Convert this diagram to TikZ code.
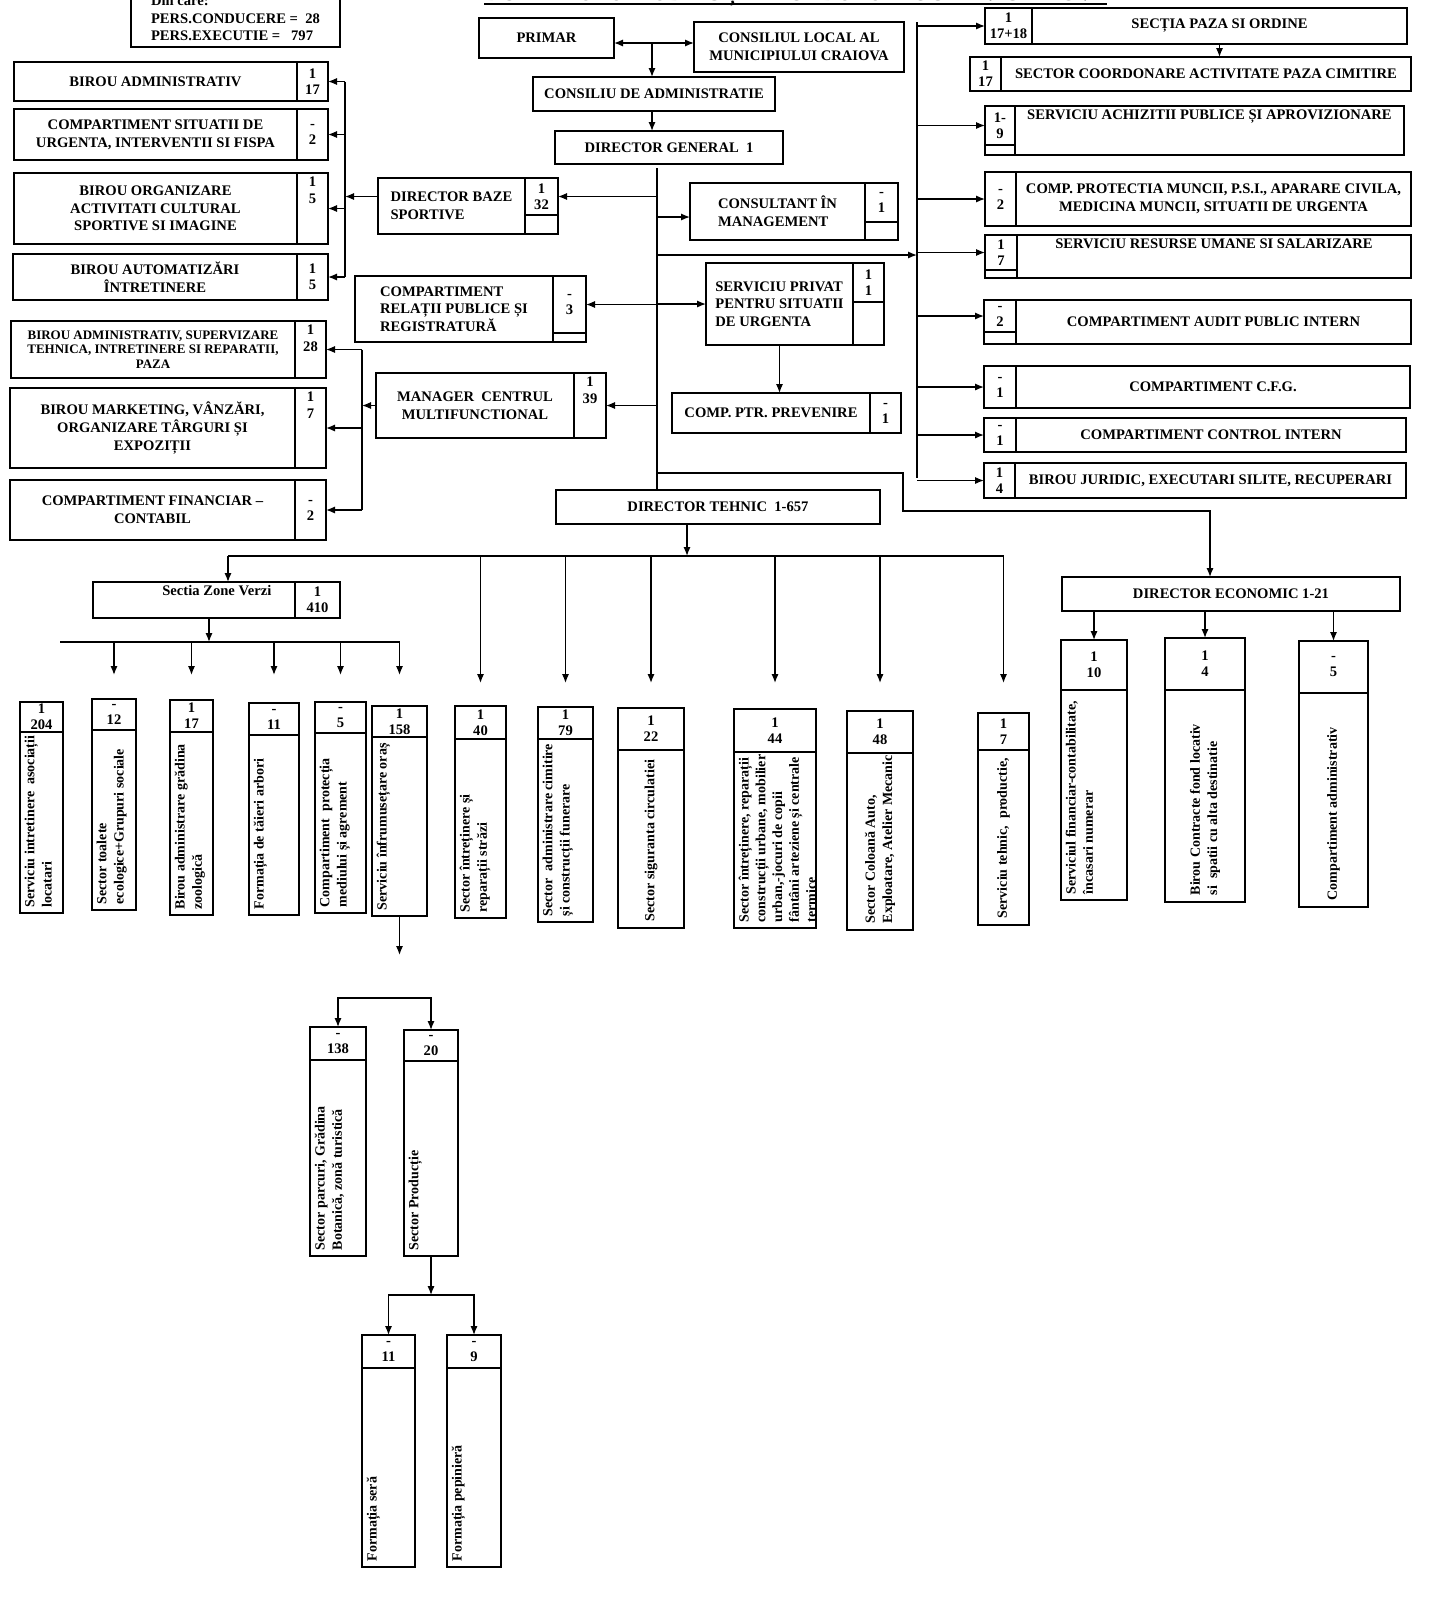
\documentclass[tikz,border=0pt]{standalone}
\usepackage{fontspec}
\setmainfont{Liberation Serif}
\usetikzlibrary{positioning}
\usetikzlibrary{arrows.meta}

\begin{document}
\begin{tikzpicture}[x=0.5pt,y=-0.5pt,line width=0.7pt]
\tikzset{>={Latex[length=4.5pt,width=3.6pt]}}
\tikzset{
  box/.style={draw,anchor=north west,outer sep=0pt,inner sep=1pt,align=center,font=\bfseries\fontsize{7.3}{8.8}\selectfont},
  cell/.style={draw,outer sep=0pt,inner sep=0.5pt,align=center,font=\bfseries\fontsize{7.3}{8}\selectfont},
  ntop/.style={anchor=north,align=center,inner sep=1.5pt,font=\bfseries\fontsize{7.3}{8.8}\selectfont},
  vtxt/.style={rotate=90,anchor=north west,inner sep=1pt,align=left,font=\bfseries\fontsize{7}{8.6}\selectfont},
  vtxtc/.style={rotate=90,anchor=west,inner sep=1pt,align=left,font=\bfseries\fontsize{7}{8.6}\selectfont}
}
\clip (0,0) rectangle (1449,1607);

% title and totals (cut by the top edge)
\node[anchor=base east,inner sep=0pt,font=\bfseries\fontsize{11}{13}\selectfont] (title) at (1107,0) {DOMENIULUI PUBLIC ȘI A FONDULUI LOCATIV CRAIOVA};
\draw[line width=1pt] ([yshift=-1.8pt]title.base west) -- ([yshift=-1.8pt]title.base east);
\node[box,anchor=south west,align=left,inner sep=3pt,minimum width=104.5pt] (pers) at (131,47) {Din care:\\PERS.CONDUCERE =\ \ 28\\PERS.EXECUTIE =\ \ \ 797};

% left column, under director baze sportive
\node[box,minimum width=141.5pt,minimum height=19.5pt] (b1) at (14,62) {BIROU ADMINISTRATIV};
\node[cell,minimum width=15.5pt,minimum height=19.5pt,right=0pt of b1] (b1n) {1\\17};
\node[box,minimum width=141.5pt,minimum height=25.5pt] (b2) at (14,109) {COMPARTIMENT SITUATII DE\\URGENTA, INTERVENTII SI FISPA};
\node[cell,minimum width=15.5pt,minimum height=25.5pt,right=0pt of b2] (b2n) {-\\2};
\node[box,minimum width=141.5pt,minimum height=35.5pt] (b3) at (14,173) {BIROU ORGANIZARE\\ACTIVITATI CULTURAL\\SPORTIVE SI IMAGINE};
\node[cell,minimum width=15.5pt,minimum height=35.5pt,right=0pt of b3,label={[ntop]north:1\\5}] (b3n) {};
\node[box,minimum width=142pt,minimum height=23pt] (b4) at (13,254) {BIROU AUTOMATIZĂRI\\ÎNTRETINERE};
\node[cell,minimum width=15.5pt,minimum height=23pt,right=0pt of b4] (b4n) {1\\5};

% left column, under manager centrul multifunctional
\node[box,minimum width=142pt,minimum height=28.5pt,font=\bfseries\fontsize{6.5}{7.2}\selectfont] (b5) at (11,321) {BIROU ADMINISTRATIV, SUPERVIZARE\\TEHNICA, INTRETINERE SI REPARATII,\\PAZA};
\node[cell,minimum width=15.5pt,minimum height=28.5pt,right=0pt of b5,label={[ntop]north:1\\28}] (b5n) {};
\node[box,minimum width=142.5pt,minimum height=40pt] (b6) at (10,388) {BIROU MARKETING, VÂNZĂRI,\\ORGANIZARE TÂRGURI ȘI\\EXPOZIȚII};
\node[cell,minimum width=15.5pt,minimum height=40pt,right=0pt of b6,label={[ntop]north:1\\7}] (b6n) {};
\node[box,minimum width=142.5pt,minimum height=30pt] (b7) at (10,480) {COMPARTIMENT FINANCIAR --\\CONTABIL};
\node[cell,minimum width=15.5pt,minimum height=30pt,right=0pt of b7] (b7n) {-\\2};

% management
\node[box,minimum width=67.5pt,minimum height=20pt] (primar) at (479,18) {PRIMAR};
\node[box,minimum width=105pt,minimum height=25pt] (cl) at (694,22) {CONSILIUL LOCAL AL\\MUNICIPIULUI CRAIOVA};
\node[box,minimum width=121pt,minimum height=17pt] (ca) at (533,77) {CONSILIU DE ADMINISTRATIE};
\node[box,minimum width=114pt,minimum height=16.5pt] (dg) at (555,131) {DIRECTOR GENERAL\ \ 1};

% boxes beside the trunk
\node[cell,anchor=north east,minimum width=16.5pt,minimum height=18.5pt] (dbsn) at (558,178) {1\\32};
\node[box,anchor=north east,align=left,minimum width=73.5pt,minimum height=28pt] (dbs) at (dbsn.north west) {DIRECTOR BAZE\\SPORTIVE};
\draw (dbs.south east) -| (dbsn.south east);
\node[cell,anchor=north east,minimum width=16.5pt,minimum height=19.5pt] (consn) at (898,183) {-\\1};
\node[box,anchor=north east,align=left,minimum width=87.5pt,minimum height=28.5pt] (cons) at (consn.north west) {CONSULTANT ÎN\\MANAGEMENT};
\draw (cons.south east) -| (consn.south east);
\node[cell,anchor=north east,minimum width=16.5pt,minimum height=28.5pt] (crpsrn) at (586,276) {-\\3};
\node[box,anchor=north east,align=left,minimum width=99pt,minimum height=33pt] (crpsr) at (crpsrn.north west) {COMPARTIMENT\\RELAȚII PUBLICE ȘI\\REGISTRATURĂ};
\draw (crpsr.south east) -| (crpsrn.south east);
\node[cell,anchor=north east,minimum width=15.5pt,minimum height=19.5pt] (spsun) at (884,263) {1\\1};
\node[box,anchor=north east,align=left,minimum width=73.5pt,minimum height=41pt] (spsu) at (spsun.north west) {SERVICIU PRIVAT\\PENTRU SITUATII\\DE URGENTA};
\draw (spsu.south east) -| (spsun.south east);
\node[box,minimum width=99pt,minimum height=32.5pt] (mcm) at (376,373) {MANAGER\ \ CENTRUL\\MULTIFUNCTIONAL};
\node[cell,minimum width=16pt,minimum height=32.5pt,right=0pt of mcm,label={[ntop]north:1\\39}] (mcmn) {};
\node[box,minimum width=99pt,minimum height=20pt] (cpp) at (672,393) {COMP. PTR. PREVENIRE};
\node[cell,minimum width=15.5pt,minimum height=20pt,right=0pt of cpp] (cppn) {-\\1};

% right column
\node[cell,anchor=north west,minimum width=23.5pt,minimum height=18pt] (r1n) at (985,8) {1\\17+18};
\node[box,anchor=west,minimum width=187.5pt,minimum height=18pt,right=0pt of r1n] (r1) {SECȚIA PAZA SI ORDINE};
\node[cell,anchor=north west,minimum width=15.5pt,minimum height=17pt] (r2n) at (970,57) {1\\17};
\node[box,anchor=west,minimum width=205pt,minimum height=17pt,right=0pt of r2n] (r2) {SECTOR COORDONARE ACTIVITATE PAZA CIMITIRE};
\node[cell,anchor=north west,minimum width=15pt,minimum height=19.5pt] (r3n) at (985,106) {1-\\9};
\node[box,minimum width=194.5pt,minimum height=24.5pt,label={[ntop]north:SERVICIU ACHIZITII PUBLICE ȘI APROVIZIONARE}] (r3) at (r3n.north east) {};
\draw (r3.south west) -| (r3n.south west);
\node[cell,anchor=north west,minimum width=15.5pt,minimum height=27pt] (r4n) at (985,172) {-\\2};
\node[box,anchor=west,minimum width=197.5pt,minimum height=27pt,right=0pt of r4n] (r4) {COMP. PROTECTIA MUNCII, P.S.I., APARARE CIVILA,\\MEDICINA MUNCII, SITUATII DE URGENTA};
\node[cell,anchor=north west,minimum width=16pt,minimum height=17.5pt] (r5n) at (985,235) {1\\7};
\node[box,minimum width=197pt,minimum height=21.5pt,label={[ntop]north:SERVICIU RESURSE UMANE SI SALARIZARE}] (r5) at (r5n.north east) {};
\draw (r5.south west) -| (r5n.south west);
\node[cell,anchor=north west,minimum width=16pt,minimum height=16pt] (r6n) at (984,300) {-\\2};
\node[box,minimum width=197.5pt,minimum height=22pt] (r6) at (r6n.north east) {COMPARTIMENT AUDIT PUBLIC INTERN};
\draw (r6.south west) -| (r6n.south west);
\node[cell,anchor=north west,minimum width=16pt,minimum height=21pt] (r7n) at (984,366) {-\\1};
\node[box,anchor=west,minimum width=197pt,minimum height=21pt,right=0pt of r7n] (r7) {COMPARTIMENT C.F.G.};
\node[cell,anchor=north west,minimum width=16pt,minimum height=17pt] (r8n) at (984,418) {-\\1};
\node[box,anchor=west,minimum width=195pt,minimum height=17pt,right=0pt of r8n] (r8) {COMPARTIMENT CONTROL INTERN};
\node[cell,anchor=north west,minimum width=15.5pt,minimum height=17.5pt] (r9n) at (984,463) {1\\4};
\node[box,anchor=west,minimum width=195.5pt,minimum height=17.5pt,right=0pt of r9n] (r9) {BIROU JURIDIC, EXECUTARI SILITE, RECUPERARI};

% directors
\node[box,minimum width=162pt,minimum height=17pt] (dt) at (556,490) {DIRECTOR TEHNIC\ \ 1-657};
\node[box,minimum width=169pt,minimum height=17pt] (de) at (1062,577) {DIRECTOR ECONOMIC 1-21};
\node[box,minimum width=101pt,minimum height=18pt,label={[ntop,anchor=north east,xshift=-10pt]north east:Sectia Zone Verzi}] (szv) at (93,582) {};
\node[cell,minimum width=22.5pt,minimum height=18pt,right=0pt of szv] (szvn) {1\\410};

% vertical units
\node[cell,anchor=north west,minimum width=21.5pt,minimum height=15pt] (v1c) at (20,702) {1\\204};
\node[cell,anchor=north,minimum width=21.5pt,minimum height=90.5pt] (v1b) at (v1c.south) {};
\node[vtxt] (v1t) at ([xshift=1pt,yshift=1.5pt]v1b.south west) {Serviciu intretinere\ \ asociații\\locatari};
\node[cell,anchor=north west,minimum width=22pt,minimum height=15.5pt] (v2c) at (92,699) {-\\12};
\node[cell,anchor=north,minimum width=22pt,minimum height=90pt] (v2b) at (v2c.south) {};
\node[vtxt] (v2t) at ([xshift=1pt,yshift=1.5pt]v2b.south west) {Sector toalete\\ecologice+Grupuri sociale};
\node[cell,anchor=north west,minimum width=21.5pt,minimum height=16pt] (v3c) at (170,700) {1\\17};
\node[cell,anchor=north,minimum width=21.5pt,minimum height=91.5pt] (v3b) at (v3c.south) {};
\node[vtxt] (v3t) at ([xshift=1pt,yshift=1.5pt]v3b.south west) {Birou administrare grădina\\zoologică};
\node[cell,anchor=north west,minimum width=25pt,minimum height=16pt] (v4c) at (249,703) {-\\11};
\node[cell,anchor=north,minimum width=25pt,minimum height=90pt] (v4b) at (v4c.south) {};
\node[vtxt] (v4t) at ([xshift=1pt,yshift=1.5pt]v4b.south west) {Formația de tăieri arbori};
\node[cell,anchor=north west,minimum width=25.5pt,minimum height=15.5pt] (v5c) at (315,702) {-\\5};
\node[cell,anchor=north,minimum width=25.5pt,minimum height=90pt] (v5b) at (v5c.south) {};
\node[vtxt] (v5t) at ([xshift=1pt,yshift=1.5pt]v5b.south west) {Compartiment\ \ protecția\\mediului și agrement};
\node[cell,anchor=north west,minimum width=27.5pt,minimum height=15.5pt] (v6c) at (372,706) {1\\158};
\node[cell,anchor=north,minimum width=27.5pt,minimum height=89.5pt] (v6b) at (v6c.south) {};
\node[vtxt] (v6t) at ([xshift=1pt,yshift=1.5pt]v6b.south west) {Serviciu înfrumusețare oraș};
\node[cell,anchor=north west,minimum width=25.5pt,minimum height=16.5pt] (v7c) at (455,706) {1\\40};
\node[cell,anchor=north,minimum width=25.5pt,minimum height=89.5pt] (v7b) at (v7c.south) {};
\node[vtxt] (v7t) at ([xshift=1pt,yshift=1.5pt]v7b.south west) {Sector întreținere și\\reparații străzi};
\node[cell,anchor=north west,minimum width=27.5pt,minimum height=16pt] (v8c) at (538,707) {1\\79};
\node[cell,anchor=north,minimum width=27.5pt,minimum height=91.5pt] (v8b) at (v8c.south) {};
\node[vtxt] (v8t) at ([xshift=1pt,yshift=1.5pt]v8b.south west) {Sector\ \ administrare cimitire\\și construcții funerare};
\node[cell,anchor=north west,minimum width=33pt,minimum height=21pt] (v9c) at (618,708) {1\\22};
\node[cell,anchor=north,minimum width=33pt,minimum height=89pt] (v9b) at (v9c.south) {};
\node[vtxtc] (v9t) at ([yshift=2pt]v9b.south) {Sector siguranta circulatiei};
\node[cell,anchor=north west,minimum width=41pt,minimum height=21.5pt] (v10c) at (734,709) {1\\44};
\node[cell,anchor=north,minimum width=41pt,minimum height=88pt] (v10b) at (v10c.south) {};
\begin{scope}
\clip (v10b.south west) rectangle (v10b.north east);
\node[vtxt,font=\bfseries\fontsize{7}{8.4}\selectfont] (v10t) at ([xshift=1pt,yshift=1.5pt]v10b.south west) {Sector întreținere, reparații\\construcții urbane, mobilier\\urban,-jocuri de copii\\fântâni arteziene și centrale\\termice};
\end{scope}
\node[cell,anchor=north west,minimum width=33pt,minimum height=21pt] (v11c) at (847,711) {1\\48};
\node[cell,anchor=north,minimum width=33pt,minimum height=88.5pt] (v11b) at (v11c.south) {};
\node[vtxtc] (v11t) at ([yshift=2pt]v11b.south) {Sector Coloană Auto,\\Exploatare, Atelier Mecanic};
\node[cell,anchor=north west,minimum width=25.5pt,minimum height=18.5pt] (v12c) at (978,713) {1\\7};
\node[cell,anchor=north,minimum width=25.5pt,minimum height=87.5pt] (v12b) at (v12c.south) {};
\node[vtxtc] (v12t) at ([yshift=2pt]v12b.south) {Serviciu tehnic,\ \ productie,};

% economic units
\node[cell,anchor=north west,minimum width=33pt,minimum height=25pt] (e1c) at (1061,640) {1\\10};
\node[cell,anchor=north,minimum width=33pt,minimum height=105pt] (e1b) at (e1c.south) {};
\node[vtxt] (e1t) at ([xshift=1pt,yshift=1.5pt]e1b.south west) {Serviciul financiar-contabilitate,\\încasari numerar};
\node[cell,anchor=north west,minimum width=40pt,minimum height=26pt] (e2c) at (1165,638) {1\\4};
\node[cell,anchor=north,minimum width=40pt,minimum height=106pt] (e2b) at (e2c.south) {};
\node[vtxtc] (e2t) at ([yshift=2pt]e2b.south) {Birou Contracte fond locativ\\si\ \ spatii cu alta destinatie};
\node[cell,anchor=north west,minimum width=34.5pt,minimum height=26pt] (e3c) at (1299,641) {-\\5};
\node[cell,anchor=north,minimum width=34.5pt,minimum height=107pt] (e3b) at (e3c.south) {};
\node[vtxtc] (e3t) at ([yshift=2pt]e3b.south) {Compartiment administrativ};

% under serviciu infrumusetare
\node[cell,anchor=north west,minimum width=28pt,minimum height=16.5pt] (s1c) at (310,1027) {-\\138};
\node[cell,anchor=north,minimum width=28pt,minimum height=98pt] (s1b) at (s1c.south) {};
\node[vtxt] (s1t) at ([xshift=1pt,yshift=1.5pt]s1b.south west) {Sector parcuri, Grădina\\Botanică, zonă turistică};
\node[cell,anchor=north west,minimum width=27pt,minimum height=15.5pt] (s2c) at (404,1030) {-\\20};
\node[cell,anchor=north,minimum width=27pt,minimum height=97.5pt] (s2b) at (s2c.south) {};
\node[vtxt] (s2t) at ([xshift=1pt,yshift=1.5pt]s2b.south west) {Sector Producție};
\node[cell,anchor=north west,minimum width=26.5pt,minimum height=16.5pt] (f1c) at (362,1335) {-\\11};
\node[cell,anchor=north,minimum width=26.5pt,minimum height=99.5pt] (f1b) at (f1c.south) {};
\node[vtxt] (f1t) at ([xshift=1pt,yshift=1.5pt]f1b.south west) {Formația seră};
\node[cell,anchor=north west,minimum width=27pt,minimum height=16.5pt] (f2c) at (447,1335) {-\\9};
\node[cell,anchor=north,minimum width=27pt,minimum height=99.5pt] (f2b) at (f2c.south) {};
\node[vtxt] (f2t) at ([xshift=1pt,yshift=1.5pt]f2b.south west) {Formația pepinieră};

% connectors, top
\coordinate (pm) at (652,43);
\draw[<->] (primar.east |- pm) -- (cl.west |- pm);
\draw[->] (pm) -- (pm |- ca.north);
\draw[->] (ca.south -| pm) -- (dg.north -| pm);

% trunk of director general
\coordinate (tr) at (657,168);
\coordinate (t2) at (657,217);
\coordinate (t3) at (657,255);
\coordinate (k1) at (657,473);
\coordinate (k2) at (903,511);
\coordinate (k3) at (1210,511);
\draw (tr) -- (tr |- dt.north);
\draw[->] (dbsn.east -| tr) -- (dbsn.east);
\draw[->] (t2) -- (t2 -| cons.west);
\draw[->] (crpsrn.east -| tr) -- (crpsrn.east);
\draw[->] (spsu.west -| tr) -- (spsu.west);
\draw[->] (mcmn.east -| tr) -- (mcmn.east);
\draw[->] (spsu.south) -- (spsu.south |- cpp.north);
\draw[->] (k1) -| (k2) -- (k3) -- (k3 |- de.north);

% right bus
\coordinate (rb) at (917,22);
\coordinate (rbe) at (917,478);
\draw (rb) -- (rbe);
\draw[->] (t3) -- (t3 -| rb);
\draw[->] (r1n.west -| rb) -- (r1n.west);
\draw[->] (r1.south) -- (r1.south |- r2.north);
\draw[->] (r3n.west -| rb) -- (r3n.west);
\draw[->] (r4n.west -| rb) -- (r4n.west);
\draw[->] (r5n.west -| rb) -- (r5n.west);
\draw[->] (r6n.west -| rb) -- (r6n.west);
\draw[->] (r7n.west -| rb) -- (r7n.west);
\draw[->] (r8n.west -| rb) -- (r8n.west);
\draw[->] (r9n.west -| rb) -- (r9n.west);

% left buses
\coordinate (lb) at (345,77);
\coordinate (lc) at (362,355);
\draw (b1n.east -| lb) -- (b4n.east -| lb);
\draw[->] (b1n.east -| lb) -- (b1n.east);
\draw[->] (b2n.east -| lb) -- (b2n.east);
\draw[->] (b3n.east -| lb) -- (b3n.east);
\draw[->] (b4n.east -| lb) -- (b4n.east);
\draw[->] (dbs.west |- dbsn.west) -- (dbsn.west -| lb);
\draw (b5n.east -| lc) -- (b7n.east -| lc);
\draw[->] (b5n.east -| lc) -- (b5n.east);
\draw[->] (b6n.east -| lc) -- (b6n.east);
\draw[->] (b7n.east -| lc) -- (b7n.east);
\draw[->] (mcm.west) -- (mcm.west -| lc);

% director tehnic
\coordinate (db) at (687,556);
\coordinate (dbl) at (228,556);
\coordinate (ta) at (0,683);
\draw[->] (db |- dt.south) -- (db);
\draw (dbl) -- (v12c.north |- db);
\draw[->] (dbl) -- (dbl |- szv.north);
\draw[->] (v7c.north |- db) -- (v7c.north |- ta);
\draw[->] (v8c.north |- db) -- (v8c.north |- ta);
\draw[->] (v9c.north |- db) -- (v9c.north |- ta);
\draw[->] (v10c.north |- db) -- (v10c.north |- ta);
\draw[->] (v11c.north |- db) -- (v11c.north |- ta);
\draw[->] (v12c.north |- db) -- (v12c.north |- ta);

% sectia zone verzi
\coordinate (zb) at (209,642);
\coordinate (zbl) at (60,642);
\coordinate (tb) at (0,675);
\draw[->] (szv.south -| zb) -- (zb);
\draw (zbl) -- (v6c.north |- zb);
\draw[->] (v2c.north |- zb) -- (v2c.north |- tb);
\draw[->] (v3c.north |- zb) -- (v3c.north |- tb);
\draw[->] (v4c.north |- zb) -- (v4c.north |- tb);
\draw[->] (v5c.north |- zb) -- (v5c.north |- tb);
\draw[->] (v6c.north |- zb) -- (v6c.north |- tb);

% director economic
\draw[->] (e1c.north |- de.south) -- (e1c.north);
\draw[->] (e2c.north |- de.south) -- (e2c.north);
\draw[->] (e3c.north |- de.south) -- (e3c.north);

% lower branches
\coordinate (v6d) at (395,955);
\coordinate (sb) at (383,998);
\coordinate (fb) at (431,1295);
\draw[->] (v6b.south) -- (v6b.south |- v6d);
\draw[<->] (s1c.north) |- (sb) -| (s2c.north);
\draw[->] (s2b.south) -- (s2b.south |- fb);
\draw[<->] (f1c.north) |- (fb) -| (f2c.north);

\end{tikzpicture}
\end{document}
